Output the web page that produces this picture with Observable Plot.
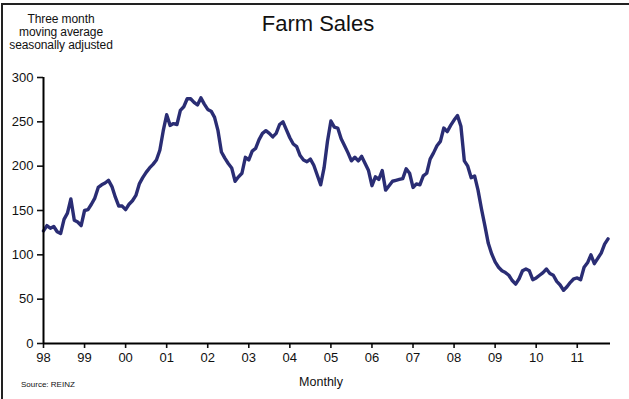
<!DOCTYPE html>
<html>
<head>
<meta charset="utf-8">
<script src="https://cdn.jsdelivr.net/npm/d3@7"></script>
<script src="https://cdn.jsdelivr.net/npm/@observablehq/plot@0.6"></script>
<style>
  html, body { margin: 0; padding: 0; background: #fff; }
  #wrap { position: relative; width: 629px; height: 399px; overflow: hidden; font-family: "Liberation Sans", Arial, sans-serif; color: #111; }
  #wrap svg { position: absolute; left: 0; top: 0; }
  .frame { position: absolute; left: 1px; top: 3px; width: 640px; height: 420px; border-top: 2px solid #222; border-left: 2px solid #222; }
  .t { position: absolute; white-space: nowrap; }
</style>
</head>
<body>
<div id="wrap">
  <div class="frame"></div>
</div>
<script>
// Farm sales, three month moving average, seasonally adjusted (monthly from Jan 1998)
const startYear = 1998;
const sales = [
  127,133,130,132,126,124,140,147,163,139,137,133,
  150,151,157,164,176,179,181,184,177,165,155,155,
  151,157,161,167,180,187,193,198,202,207,218,240,
  258,246,248,247,263,267,276,276,272,269,277,270,
  264,262,255,240,216,209,203,198,183,188,192,210,
  207,217,220,230,237,240,237,233,237,247,250,241,
  232,225,222,212,207,205,208,201,190,179,198,228,
  251,244,243,231,223,215,206,210,206,211,203,195,
  178,188,185,195,173,178,183,184,185,186,197,192,
  176,180,179,189,192,208,215,223,228,243,239,246,
  252,257,245,206,200,187,189,173,152,133,113,101,
  92,86,82,80,77,71,67,73,82,84,82,72,
  74,77,80,84,79,77,70,66,60,64,69,73,
  74,72,86,91,100,90,96,102,112,118
];
const yTicks = [0, 50, 100, 150, 200, 250, 300];
const xTicks = [1998,1999,2000,2001,2002,2003,2004,2005,2006,2007,2008,2009,2010,2011];
const xTickLabels = ["98","99","00","01","02","03","04","05","06","07","08","09","10","11"];
const xEnd = 2011.81;

const data = sales.map((v, i) => ({t: startYear + i / 12, v}));

const chart = Plot.plot({
  width: 629,
  height: 399,
  marginLeft: 43,
  marginRight: 19,
  marginTop: 77,
  marginBottom: 56,
  style: {fontFamily: '"Liberation Sans", Arial, sans-serif', fontSize: "13px", color: "#111", background: "transparent"},
  x: {domain: [startYear, xEnd]},
  y: {domain: [0, 300]},
  marks: [
    Plot.axisY({ticks: yTicks, tickSize: 6, tickPadding: 4, strokeWidth: 1.6, label: null}),
    Plot.axisX({ticks: xTicks, tickSize: 5, tickPadding: 4, strokeWidth: 1.6, label: null,
      tickFormat: d => xTickLabels[xTicks.indexOf(d)]}),
    Plot.line(data, {x: "t", y: "v", stroke: "#2a2d74", strokeWidth: 3.4, strokeLinejoin: "round", strokeLinecap: "round"}),
    Plot.ruleY([0], {stroke: "#000", strokeWidth: 2}),
    Plot.ruleX([startYear], {stroke: "#000", strokeWidth: 2})
  ]
});
const wrap = document.getElementById("wrap");
wrap.appendChild(chart);

function addText(txt, css) {
  const d = document.createElement("div");
  d.className = "t";
  d.innerHTML = txt;
  Object.assign(d.style, css);
  wrap.appendChild(d);
}
addText("Farm Sales", {left: "318px", top: "13px", transform: "translateX(-50%)", fontSize: "22px", lineHeight: "22px"});
addText("Three month<br>moving average<br>seasonally adjusted", {left: "61px", top: "13px", transform: "translateX(-50%)", fontSize: "12px", lineHeight: "13px", textAlign: "center", letterSpacing: "-0.1px"});
addText("Source: REINZ", {left: "21px", top: "381px", fontSize: "8px", lineHeight: "8px"});
addText("Monthly", {left: "321px", top: "376px", transform: "translateX(-50%)", fontSize: "12.5px", lineHeight: "12.5px"});
</script>
</body>
</html>
